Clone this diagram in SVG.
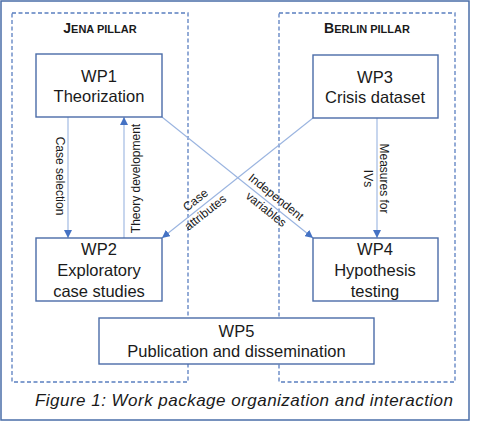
<svg xmlns="http://www.w3.org/2000/svg" width="477" height="423" viewBox="0 0 477 423">
<style>
.frame{fill:none;stroke:#4a6ea8;stroke-width:1.5}
.pillar{fill:none;stroke:#5a7fc0;stroke-width:1.3;stroke-dasharray:4 2.5}
.box{fill:#ffffff;stroke:#4a6ca8;stroke-width:1.4}
.conn{fill:none;stroke:#9ab4e0;stroke-width:1.1}
.t{font-family:"Liberation Sans",Arial,sans-serif;font-size:16.5px;fill:#1a1a1a;text-anchor:middle}
.lbl{font-family:"Liberation Sans",Arial,sans-serif;font-size:12px;fill:#1a1a1a;text-anchor:middle}
.ttl{font-family:"Liberation Sans",Arial,sans-serif;font-weight:bold;font-size:11px;fill:#1a1a1a;text-anchor:middle}
.cap{font-family:"Liberation Sans",Arial,sans-serif;font-style:italic;font-size:17px;fill:#1a1a1a}
</style>
<defs>
<marker id="arr" markerUnits="userSpaceOnUse" markerWidth="8" markerHeight="8" viewBox="0 0 6 6" refX="6" refY="3" orient="auto">
<path d="M0,0 L6,3 L0,6 z" fill="#4472c4"/>
</marker>
</defs>
<rect width="477" height="423" fill="#ffffff"/>
<rect class="frame" x="1" y="1" width="468" height="419"/>
<g id="jena-pillar">
<rect class="pillar" x="12" y="13" width="176" height="369"/>
<text class="ttl" x="100" y="32.5"><tspan font-size="14">J</tspan>ENA PILLAR</text>
</g>
<g id="berlin-pillar">
<rect class="pillar" x="279" y="13" width="176" height="369"/>
<text class="ttl" x="367" y="32.5"><tspan font-size="14">B</tspan>ERLIN PILLAR</text>
</g>
<g id="connectors">
<line class="conn" x1="68" y1="117" x2="68" y2="238" marker-end="url(#arr)"/>
<line class="conn" x1="124" y1="238" x2="124" y2="117" marker-end="url(#arr)"/>
<line class="conn" x1="377" y1="118" x2="377" y2="238" marker-end="url(#arr)"/>
<line class="conn" x1="162" y1="117" x2="313" y2="238" marker-end="url(#arr)"/>
<line class="conn" x1="313" y1="118" x2="162" y2="238" marker-end="url(#arr)"/>
<text class="lbl" transform="translate(56,176) rotate(90)">Case selection</text>
<text class="lbl" transform="translate(139.5,178.5) rotate(-90)">Theory development</text>
<text class="lbl" transform="translate(380,178.5) rotate(90)"><tspan x="0" y="0">Measures for</tspan><tspan x="0" y="16">IVs</tspan></text>
<text class="lbl" transform="translate(270.5,204) rotate(38.7)"><tspan x="0" y="-5">Independent</tspan><tspan x="0" y="11">variables</tspan></text>
<text class="lbl" transform="translate(201,207) rotate(-38.5)"><tspan x="0" y="-5">Case</tspan><tspan x="0" y="11">attributes</tspan></text>
</g>
<g id="wp1">
<rect class="box" x="36" y="54" width="126" height="63"/>
<text class="t" x="99" y="82">WP1</text>
<text class="t" x="99" y="102">Theorization</text>
</g>
<g id="wp3">
<rect class="box" x="313" y="55" width="125" height="63"/>
<text class="t" x="375" y="83">WP3</text>
<text class="t" x="375" y="103">Crisis dataset</text>
</g>
<g id="wp2">
<rect class="box" x="36" y="238" width="126" height="63"/>
<text class="t" x="99" y="255">WP2</text>
<text class="t" x="99" y="276">Exploratory</text>
<text class="t" x="99" y="297">case studies</text>
</g>
<g id="wp4">
<rect class="box" x="313" y="238" width="125" height="63"/>
<text class="t" x="375" y="255">WP4</text>
<text class="t" x="375" y="276">Hypothesis</text>
<text class="t" x="375" y="297">testing</text>
</g>
<g id="wp5">
<rect class="box" x="99" y="318" width="275" height="46"/>
<text class="t" x="236.5" y="337">WP5</text>
<text class="t" x="236.5" y="357">Publication and dissemination</text>
</g>
<text class="cap" x="35" y="406" textLength="418" lengthAdjust="spacing">Figure 1: Work package organization and interaction</text>
</svg>
